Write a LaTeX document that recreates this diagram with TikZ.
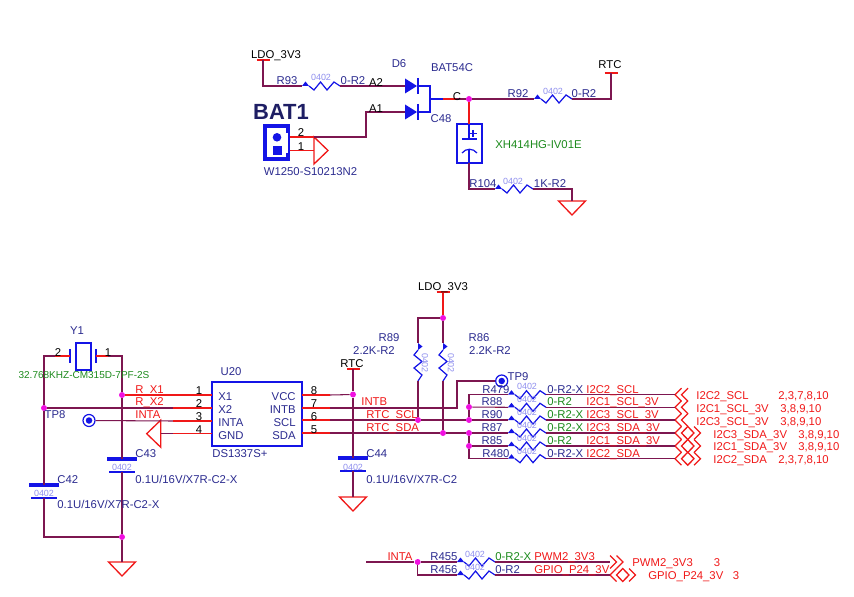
\documentclass[tikz,border=0pt]{standalone}
\usepackage{fontspec}
\setmainfont{Liberation Sans}
\definecolor{wirec}{HTML}{7D1650}
\definecolor{pinc}{HTML}{F01818}
\definecolor{bluec}{HTML}{1414E6}
\definecolor{navyc}{HTML}{2B2B8F}
\definecolor{grnc}{HTML}{1C8A1C}
\definecolor{pkgc}{HTML}{8F8FEE}
\definecolor{dotc}{HTML}{F010E0}
\tikzset{
  wire/.style={draw=wirec,line width=0.6pt},
  pin/.style={draw=pinc,line width=0.6pt},
  blueln/.style={draw=bluec,line width=0.7pt},
  offln/.style={draw=pinc,line width=0.75pt},
  lbl/.style={inner sep=0pt,text height=4.6pt,text depth=0pt,font=\fontsize{6.45}{7}\selectfont},
  navy/.style={lbl,text=navyc},
  redt/.style={lbl,text=pinc},
  grn/.style={lbl,text=grnc},
  blk/.style={lbl,text=black},
  pkg/.style={inner sep=0pt,text height=3.65pt,text depth=0pt,text=pkgc,font=\fontsize{5.1}{6}\selectfont},
  dot/.style={circle,fill=dotc,inner sep=0pt,minimum size=0.12cm},
  tpring/.style={circle,draw=bluec,fill=white,line width=0.7pt,inner sep=0pt,minimum size=0.24cm},
  tpcore/.style={circle,fill=bluec,inner sep=0pt,minimum size=0.13cm},
  resh/.pic={
    \draw[pin] (-13,0) -- (0,0);
    \draw[pin] (38,0) -- (51,0);
    \fill[bluec] (0,0) -- (3.5,4.5) -- (7,0) -- cycle;
    \draw[blueln] (7,0) -- (12,-4) -- (18.5,4) -- (25,-4) -- (32,4) -- (38,0);
    \coordinate (-a) at (0,0);
    \coordinate (-b) at (38,0);
  },
  gnd/.pic={
    \draw[offln] (-13.5,0) -- (13.5,0) -- (0,-14) -- cycle;
    \coordinate (-a) at (0,0);
  },
  pwrbar/.pic={
    \draw[pin] (-6.5,0) -- (6.5,0);
    \draw[pin] (0,0) -- (0,-13);
    \coordinate (-a) at (0,0);
  },
  diode/.pic={
    \draw[pin] (-13,0) -- (0,0);
    \fill[bluec] (0,7.5) -- (12,0) -- (0,-7.5) -- cycle;
    \draw[blueln] (13,8) -- (13,-8);
    \coordinate (-a) at (0,0);
    \coordinate (-k) at (13,0);
  },
  capv/.pic={
    \draw[pin] (0,12) -- (0,0);
    \draw[pin] (0,-13) -- (0,-25);
    \draw[bluec,line width=2.2pt] (-15,0) -- (15,0);
    \draw[blueln] (-13,-13) -- (13,-13);
    \coordinate (-a) at (0,0);
    \coordinate (-b) at (0,-13);
  },
  offl/.pic={
    \draw[offln] (6.5,6.5) -- (0,0) -- (6.5,-6.5);
    \draw[offln] (13,6.5) -- (6.5,0) -- (13,-6.5);
    \coordinate (-a) at (0,0);
  },
  offb/.pic={
    \draw[offln] (6.5,6.5) -- (0,0) -- (6.5,-6.5);
    \draw[offln] (6.5,0) -- (12.75,6.5) -- (19,0) -- (12.75,-6.5) -- cycle;
    \draw[offln] (19,6.5) -- (25.5,0) -- (19,-6.5);
    \coordinate (-a) at (0,0);
  },
  offr/.pic={
    \draw[offln] (0,6.5) -- (6.5,0) -- (0,-6.5);
    \draw[offln] (6.5,6.5) -- (13,0) -- (6.5,-6.5);
    \coordinate (-a) at (0,0);
  }
}
\begin{document}
\begin{tikzpicture}[x=0.02cm,y=0.02cm]
\useasboundingbox (0,0) rectangle (854,-597);
\node [dot] (jc) at (469,-99) {};
\node [dot] (jxa) at (122,-395) {};
\node [dot] (jxb) at (44,-408) {};
\node [dot] (jgnd) at (122,-537) {};
\node [dot] (jv) at (353,-394.5) {};
\node [dot] (jl) at (443,-318) {};
\node [dot] (jscl) at (418,-420) {};
\node [dot] (jsda) at (443,-433) {};
\node [dot] (jb0) at (469,-407) {};
\node [dot] (jb1) at (469,-420) {};
\node [dot] (jb2) at (469,-433) {};
\node [dot] (jb3) at (469,-446) {};
\node [dot] (ji) at (417.7,-562) {};
\node [tpring] (tp8) at (89,-420.5) {};
\node [tpcore] (tp8c) at (89,-420.5) {};
\node [tpring] (tp9) at (501.7,-381) {};
\node [tpcore] (tp9c) at (501.7,-381) {};
\pic (pldoa) at (263,-60) {pwrbar};
\pic (prtca) at (611,-73) {pwrbar};
\pic (prtcb) at (353,-369) {pwrbar};
\pic (pldob) at (443,-292) {pwrbar};
\pic (r93) at (302,-86) {resh};
\pic (r92) at (534,-99) {resh};
\pic (r104) at (495,-189) {resh};
\pic (r479) at (508,-394.7) {resh};
\pic (r88) at (508,-407.3) {resh};
\pic (r90) at (508,-420) {resh};
\pic (r87) at (508,-433) {resh};
\pic (r85) at (508,-446) {resh};
\pic (r480) at (508,-458.7) {resh};
\pic (r455) at (457,-562) {resh};
\pic (r456) at (457,-575) {resh};
\pic [rotate=-90] (r89) at (418,-343) {resh};
\pic [rotate=-90] (r86) at (443,-343) {resh};
\pic (d6a) at (405,-86) {diode};
\pic (d6b) at (405,-112) {diode};
\pic (gr104) at (572,-201) {gnd};
\pic (gy1) at (122,-562) {gnd};
\pic (gc44) at (353,-497) {gnd};
\pic [rotate=90] (gbat) at (314,-150.5) {gnd};
\pic [rotate=-90] (gu20) at (160.7,-433.7) {gnd};
\pic (c42) at (44,-485) {capv};
\pic (c43) at (122,-459) {capv};
\pic (c44) at (353,-458) {capv};
\pic (offa) at (675,-394.7) {offl};
\pic (offc) at (675,-407.3) {offl};
\pic (offe) at (675,-420) {offl};
\pic (offg) at (675,-433) {offb};
\pic (offi) at (675,-446) {offb};
\pic (offk) at (675,-458.7) {offb};
\pic (offp) at (610,-562) {offr};
\pic (offq) at (610,-575) {offb};
\coordinate (d6u) at (430,-86);
\coordinate (d6l) at (430,-112);
\coordinate (d6c) at (430,-99);
\coordinate (d6o) at (443,-99);
\coordinate (d6p) at (456,-99);
\coordinate (a1x) at (366,-125);
\coordinate (batb) at (290,-137);
\coordinate (batbp) at (314,-137);
\coordinate (bata) at (290,-150.5);
\coordinate (c48t) at (469,-124);
\coordinate (c48b) at (469,-163);
\coordinate (c48u) at (469,-139);
\coordinate (c48v) at (469,-150);
\coordinate (y1l) at (70,-356);
\coordinate (y1lp) at (55,-356);
\coordinate (y1lc) at (44,-356);
\coordinate (y1r) at (96,-356);
\coordinate (y1rp) at (108,-356);
\coordinate (y1rc) at (122,-356);
\coordinate (x1) at (212,-395);
\coordinate (x2) at (212,-408);
\coordinate (x2p) at (173,-408);
\coordinate (x3) at (212,-421);
\coordinate (x3p) at (173,-421);
\coordinate (x4) at (212,-433.7);
\coordinate (x4p) at (173,-433.7);
\coordinate (x8) at (302,-395);
\coordinate (x8p) at (330,-395);
\coordinate (x7) at (302,-408);
\coordinate (x7p) at (330,-408);
\coordinate (x6) at (302,-420);
\coordinate (x6p) at (330,-420);
\coordinate (x5) at (302,-433);
\coordinate (x5p) at (330,-433);
\coordinate (tp9x) at (457,-395);
\coordinate (intaw) at (366,-562);
\node [draw=bluec,line width=2.5pt,minimum width=0.452cm,minimum height=0.652cm,inner sep=0pt] (bat) at (276.5,-142.5) {};
\fill [white] (285,-133) rectangle (288,-153);
\fill [bluec] (277,-137.3) circle (4.3);
\fill [bluec] (272.7,-146.3) rectangle (281.7,-155.3);
\node [draw=bluec,line width=0.9pt,minimum width=0.5cm,minimum height=0.78cm,inner sep=0pt] (c48) at (469.5,-143.5) {};
\draw [bluec,line width=1.6pt] (462,-139) -- (477,-139);
\draw [blueln] (462,-153) .. controls (466,-148) and (473,-148) .. (477,-153);
\draw [blueln] (473,-130) -- (473,-137);
\draw [blueln] (469.5,-133.5) -- (476.5,-133.5);
\draw [blueln] (c48t) -- (c48u);
\draw [blueln] (c48v) -- (c48b);
\node [draw=bluec,line width=0.9pt,minimum width=0.3cm,minimum height=0.54cm,inner sep=0pt] (y1) at (83.5,-356.5) {};
\draw [blueln] (70,-349) -- (70,-363);
\draw [blueln] (96,-349) -- (96,-363);
\node [draw=bluec,line width=0.9pt,minimum width=1.8cm,minimum height=1.28cm,inner sep=0pt] (u20) at (257,-414) {};
\draw [wire] (pldoa-a) |- (r93-a);
\draw [wire] (r93-b) -- (d6a-a);
\draw [wire] (d6o) -- (jc);
\draw [pin] (d6o) -- (d6p);
\draw [blueln] (d6a-k) -- (d6u) -- (d6l) -- (d6b-k);
\draw [blueln] (d6c) -- (d6o);
\draw [wire] (jc) -- (r92-a);
\draw [wire] (r92-b) -| (prtca-a);
\draw [pin] (jc) -- (c48t);
\draw [pin] (c48b) -- (469,-180);
\draw [wire] (c48b) |- (r104-a);
\draw [wire] (r104-b) -| (gr104-a);
\draw [wire] (batbp) -| (a1x) |- (d6b-a);
\draw [pin] (batb) -- (batbp);
\draw [pin] (bata) -- (gbat-a);
\draw [wire] (y1lp) -- (y1lc) -- (jxb);
\draw [pin] (y1l) -- (y1lp);
\draw [wire] (jxb) -- (c42-a);
\draw [wire] (c42-b) |- (jgnd);
\draw [wire] (y1rp) -- (y1rc) -- (jxa);
\draw [pin] (y1r) -- (y1rp);
\draw [wire] (jxa) -- (c43-a);
\draw [wire] (c43-b) -- (jgnd);
\draw [wire] (jgnd) -- (gy1-a);
\draw [pin] (jxa) -- (x1);
\draw [wire] (jxb) -- (x2p);
\draw [pin] (x2p) -- (x2);
\draw [wire] (tp8) -- (x3p);
\draw [pin] (x3p) -- (x3);
\draw [wire] (gu20-a) -- (x4p);
\draw [pin] (x4p) -- (x4);
\draw [pin] (x8) -- (x8p);
\draw [wire] (x8p) -- (jv);
\draw [pin] (x7) -- (x7p);
\draw [wire] (x7p) -| (tp9x) |- (tp9);
\draw [pin] (x6) -- (x6p);
\draw [wire] (x6p) -- (jscl);
\draw [wire] (jscl) -- (jb1);
\draw [pin] (x5) -- (x5p);
\draw [wire] (x5p) -- (jsda);
\draw [wire] (jsda) -- (jb2);
\draw [wire] (prtcb-a) -- (jv);
\draw [wire] (jv) -- (c44-a);
\draw [wire] (c44-b) -- (gc44-a);
\draw [pin] (pldob-a) -- (jl);
\draw [wire] (jl) -- (r86-a);
\draw [wire] (r86-b) -- (jsda);
\draw [wire] (jl) -| (r89-a);
\draw [wire] (r89-b) -- (jscl);
\draw [wire] (r479-a) -| (jb0);
\draw [wire] (jb0) -- (jb1);
\draw [wire] (jb0) -- (r88-a);
\draw [wire] (jb1) -- (r90-a);
\draw [wire] (jb2) -- (r87-a);
\draw [wire] (jb2) -- (jb3);
\draw [wire] (jb3) -- (r85-a);
\draw [wire] (jb3) |- (r480-a);
\draw [wire] (r479-b) -- (offa-a);
\draw [wire] (r88-b) -- (offc-a);
\draw [wire] (r90-b) -- (offe-a);
\draw [wire] (r87-b) -- (offg-a);
\draw [wire] (r85-b) -- (offi-a);
\draw [wire] (r480-b) -- (offk-a);
\draw [wire] (intaw) -- (ji);
\draw [wire] (ji) -- (r455-a);
\draw [wire] (ji) |- (r456-a);
\draw [wire] (r455-b) -- (offp-a);
\draw [wire] (r456-b) -- (offq-a);
\node [blk] (tldoa) at (276,-54) {LDO\_3V3};
\node [navy] (tr93) at (287,-80) {R93};
\node [pkg] (pr93) at (321,-77) {0402};
\node [navy] (vr93) at (353,-80) {0-R2};
\node [blk] (ta2) at (376,-82) {A2};
\node [blk] (ta1) at (376,-108) {A1};
\node [navy] (td6) at (399,-63) {D6};
\node [navy] (tbat54) at (452,-67) {BAT54C};
\node [navy] (tc48) at (441,-118) {C48};
\node [blk] (tc) at (457,-96) {C};
\node [navy] (tr92) at (518,-93) {R92};
\node [pkg] (pr92) at (553,-91) {0402};
\node [navy] (vr92) at (584,-93) {0-R2};
\node [blk] (trtca) at (610,-64) {RTC};
\node [grn] (vc48) at (538.5,-144) {XH414HG-IV01E};
\node [navy] (tr104) at (483,-183) {R104};
\node [pkg] (pr104) at (513,-181) {0402};
\node [navy] (vr104) at (550,-183) {1K-R2};
\node [lbl,text height=9pt,text=navyc!70!black,font=\bfseries\fontsize{12.5}{14}\selectfont] (tbat) at (281,-112) {BAT1};
\node [blk] (tb2) at (301,-132) {2};
\node [blk] (tb1) at (301,-146) {1};
\node [navy] (vbat) at (310.5,-171) {W1250-S10213N2};
\node [navy] (ty1) at (77,-330) {Y1};
\node [blk] (ty2) at (58,-352) {2};
\node [blk] (ty1a) at (108,-352) {1};
\node [grn,font=\fontsize{5.7}{7}\selectfont] (vy1) at (84,-374) {32.768KHZ-CM315D-7PF-2S};
\node [redt,anchor=west] (trx1) at (135,-389) {R\_X1};
\node [redt,anchor=west] (trx2) at (135,-401) {R\_X2};
\node [redt,anchor=west] (tinta) at (135,-414) {INTA};
\node [navy] (ttp8) at (55,-414) {TP8};
\node [blk] (tn1) at (199,-390) {1};
\node [blk] (tn2) at (199,-403) {2};
\node [blk] (tn3) at (199,-416) {3};
\node [blk] (tn4) at (199,-429) {4};
\node [blk] (tn8) at (314,-390) {8};
\node [blk] (tn7) at (314,-403) {7};
\node [blk] (tn6) at (314,-416) {6};
\node [blk] (tn5) at (314,-429) {5};
\node [navy] (tu20) at (231,-371) {U20};
\node [navy,anchor=west] (tx1) at (218,-396) {X1};
\node [navy,anchor=west] (tx2) at (218,-409) {X2};
\node [navy,anchor=west] (tx3) at (218,-422) {INTA};
\node [navy,anchor=west] (tx4) at (218,-435) {GND};
\node [navy,anchor=east] (tx8) at (296,-396) {VCC};
\node [navy,anchor=east] (tx7) at (296,-409) {INTB};
\node [navy,anchor=east] (tx6) at (296,-422) {SCL};
\node [navy,anchor=east] (tx5) at (296,-435) {SDA};
\node [navy,anchor=west] (vu20) at (212,-453) {DS1337S+};
\node [navy,anchor=west] (tc43) at (135,-453) {C43};
\node [pkg] (pc43) at (122,-467) {0402};
\node [navy,anchor=west] (vc43) at (135,-479) {0.1U/16V/X7R-C2-X};
\node [navy,anchor=west] (tc42) at (57,-479) {C42};
\node [pkg] (pc42) at (44,-493) {0402};
\node [navy,anchor=west] (vc42) at (57,-504) {0.1U/16V/X7R-C2-X};
\node [navy,anchor=west] (tc44) at (366,-453) {C44};
\node [pkg] (pc44) at (353,-467) {0402};
\node [navy,anchor=west] (vc44) at (366,-479) {0.1U/16V/X7R-C2};
\node [blk] (trtcb) at (352,-363) {RTC};
\node [blk] (tldob) at (443,-286) {LDO\_3V3};
\node [navy] (tr89) at (389,-337) {R89};
\node [navy] (vr89) at (374,-350) {2.2K-R2};
\node [navy] (tr86) at (479,-337) {R86};
\node [navy] (vr86) at (490,-350) {2.2K-R2};
\node [pkg,rotate=-90] (pr89) at (425,-363) {0402};
\node [pkg,rotate=-90] (pr86) at (451,-363) {0402};
\node [redt,anchor=west] (tintb) at (361,-401) {INTB};
\node [redt,anchor=west] (tscl) at (366,-414) {RTC\_SCL};
\node [redt,anchor=west] (tsda) at (366,-427) {RTC\_SDA};
\node [navy] (ttp9) at (518,-376) {TP9};
\node [navy] (tr479) at (496,-389) {R479};
\node [navy] (tr88) at (492,-401) {R88};
\node [navy] (tr90) at (492,-414) {R90};
\node [navy] (tr87) at (492,-427) {R87};
\node [navy] (tr85) at (492,-440) {R85};
\node [navy] (tr480) at (496,-453) {R480};
\node [pkg] (pr479) at (527,-386) {0402};
\node [pkg] (pr88) at (527,-399) {0402};
\node [pkg] (pr90) at (527,-412) {0402};
\node [pkg] (pr87) at (527,-425) {0402};
\node [pkg] (pr85) at (527,-438) {0402};
\node [pkg] (pr480) at (527,-451) {0402};
\node [navy,anchor=west] (vr479) at (547,-389) {0-R2-X};
\node [grn,anchor=west] (vr88) at (547,-401) {0-R2};
\node [grn,anchor=west] (vr90) at (547,-414) {0-R2-X};
\node [grn,anchor=west] (vr87) at (547,-427) {0-R2-X};
\node [grn,anchor=west] (vr85) at (547,-440) {0-R2};
\node [navy,anchor=west] (vr480) at (547,-453) {0-R2-X};
\node [redt,anchor=west] (na) at (586,-389) {I2C2\_SCL};
\node [redt,anchor=west] (nc) at (586,-401) {I2C1\_SCL\_3V};
\node [redt,anchor=west] (ne) at (586,-414) {I2C3\_SCL\_3V};
\node [redt,anchor=west] (ng) at (586,-427) {I2C3\_SDA\_3V};
\node [redt,anchor=west] (ni) at (586,-440) {I2C1\_SDA\_3V};
\node [redt,anchor=west] (nk) at (586,-453) {I2C2\_SDA};
\node [redt,anchor=west] (oa) at (696,-395) {I2C2\_SCL};
\node [redt,anchor=west] (oc) at (696,-408) {I2C1\_SCL\_3V};
\node [redt,anchor=west] (oe) at (696,-421) {I2C3\_SCL\_3V};
\node [redt,anchor=west] (og) at (713,-434) {I2C3\_SDA\_3V};
\node [redt,anchor=west] (oi) at (713,-446) {I2C1\_SDA\_3V};
\node [redt,anchor=west] (ok) at (713,-459) {I2C2\_SDA};
\node [redt,anchor=west] (sa) at (778,-395) {2,3,7,8,10};
\node [redt,anchor=west] (sc) at (780,-408) {3,8,9,10};
\node [redt,anchor=west] (se) at (780,-421) {3,8,9,10};
\node [redt,anchor=west] (sg) at (798,-434) {3,8,9,10};
\node [redt,anchor=west] (si) at (798,-446) {3,8,9,10};
\node [redt,anchor=west] (sk) at (778,-459) {2,3,7,8,10};
\node [redt] (tintab) at (400,-556) {INTA};
\node [navy] (tr455) at (444,-556) {R455};
\node [pkg] (pr455) at (475,-554) {0402};
\node [grn,anchor=west] (vr455) at (495,-556) {0-R2-X};
\node [redt,anchor=west] (np) at (534,-556) {PWM2\_3V3};
\node [navy] (tr456) at (444,-569) {R456};
\node [pkg] (pr456) at (475,-567) {0402};
\node [navy,anchor=west] (vr456) at (495,-569) {0-R2};
\node [redt,anchor=west] (nq) at (534,-569) {GPIO\_P24\_3V};
\node [redt,anchor=west] (op) at (632,-562) {PWM2\_3V3};
\node [redt] (sp) at (717,-562) {3};
\node [redt,anchor=west] (oq) at (648,-575) {GPIO\_P24\_3V};
\node [redt] (sq) at (736,-575) {3};
\end{tikzpicture}
\end{document}
